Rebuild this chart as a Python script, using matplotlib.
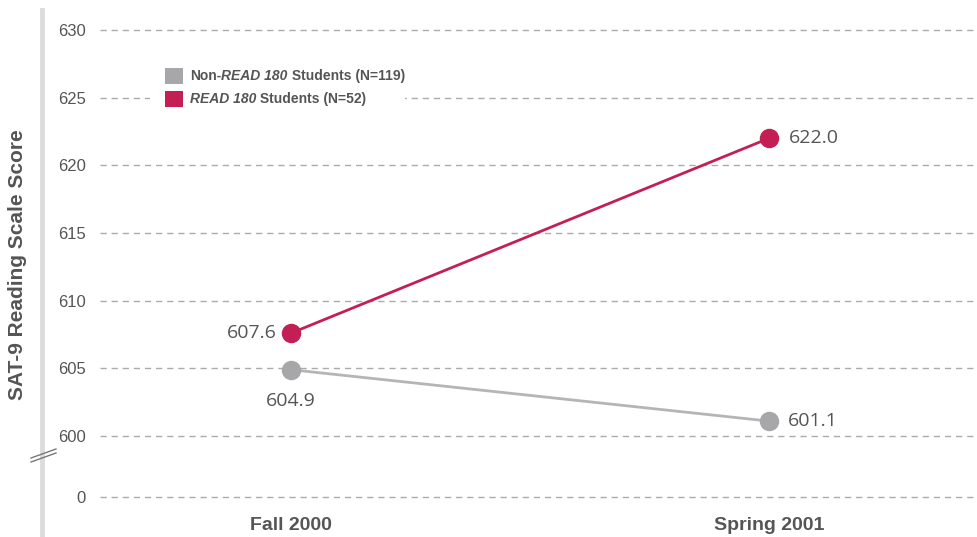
import matplotlib
matplotlib.use("Agg")
import matplotlib.pyplot as plt
from matplotlib.lines import Line2D
from matplotlib.offsetbox import TextArea, HPacker, AnchoredOffsetbox
import matplotlib.font_manager as fm

names = {f.name for f in fm.fontManager.ttflist}
COND = "Liberation Sans Narrow" if "Liberation Sans Narrow" in names else "Liberation Sans"
NUMF = "Open Sans"

categories = ["Fall 2000", "Spring 2001"]
non_read = [604.9, 601.1]
read180 = [607.6, 622.0]
non_labels = ["604.9", "601.1"]
read_labels = ["607.6", "622.0"]
ytick_vals = [600, 605, 610, 615, 620, 625, 630]

GRAY = "#a7a7aa"
GRAY_LINE = "#b5b5b8"
RED = "#c41f55"
TXT = "#555555"

W, H = 978, 537
fig = plt.figure(figsize=(W / 100, H / 100), dpi=100)
ax = fig.add_axes([100 / W, 0, 878 / W, 527 / H])
pxu = (436 - 30) / 30.0
ytop = 630 + 20 / pxu
ybot = 630 - 507 / pxu
zero_pos = 600 - 61 / pxu
ax.set_ylim(ybot, ytop)
x0, x1 = 291, 769
ppx = x1 - x0
ax.set_xlim((100 - x0) / ppx, (978 - x0) / ppx)

for s in ax.spines.values():
    s.set_visible(False)
ax.tick_params(length=0)
ax.set_xticks([])

for v in [zero_pos] + ytick_vals:
    ax.axhline(v, color="#ababab", lw=1, ls=(0, (4.5, 3.5)), zorder=1)

ax.set_yticks([zero_pos] + ytick_vals)
ax.set_yticklabels(["0"] + [str(v) for v in ytick_vals], family=[COND, "DejaVu Sans"],
                   fontsize=12, color=TXT)
ax.tick_params(axis="y", pad=10)

xs = list(range(len(categories)))
ax.plot(xs, non_read, color=GRAY_LINE, lw=2, zorder=3)
ax.plot(xs, non_read, "o", color=GRAY, ms=13, zorder=4)
ax.plot(xs, read180, color=RED, lw=2, zorder=3)
ax.plot(xs, read180, "o", color=RED, ms=13, zorder=4)

nf = dict(family=[NUMF, "DejaVu Sans"], fontsize=14, color=TXT)
ax.annotate(read_labels[0], (xs[0], read180[0]), xytext=(-14, 0), textcoords="offset pixels",
            ha="right", va="center", **nf)
ax.annotate(non_labels[0], (xs[0], non_read[0]), xytext=(0, -31), textcoords="offset pixels",
            ha="center", va="center", **nf)
ax.annotate(read_labels[1], (xs[1], read180[1]), xytext=(20, 0), textcoords="offset pixels",
            ha="left", va="center", **nf)
ax.annotate(non_labels[1], (xs[1], non_read[1]), xytext=(19, 0), textcoords="offset pixels",
            ha="left", va="center", **nf)

for i, c in enumerate(categories):
    xpix = x0 + i * ppx
    fig.text(xpix / W, 1 - 525 / H, c, ha="center", va="center",
             family=[COND, "DejaVu Sans"], fontsize=14, fontweight="bold", color=TXT)

fig.text(18 / W, 1 - 265 / H, "SAT-9 Reading Scale Score", rotation=90, ha="center", va="center",
         family=[COND, "DejaVu Sans"], fontsize=15, fontweight="bold", color=TXT)

fig.add_artist(Line2D([42 / W, 42 / W], [1 - 10 / H, 0], color="#dcdcdc", lw=3.5))
for dy in (0, 4):
    fig.add_artist(Line2D([31 / W, 56 / W], [1 - (458 + dy) / H, 1 - (449 + dy) / H],
                          color="#777777", lw=1))

lf = dict(family=[COND, "DejaVu Sans"], fontsize=10, color=TXT, fontweight="bold")
fig.patches.append(plt.Rectangle((150 / W, 1 - 112 / H), 255 / W, 50 / H, transform=fig.transFigure,
                                 facecolor="white", edgecolor="none", zorder=2))
fig.patches.append(plt.Rectangle((165 / W, 1 - 84 / H), 18 / W, 16 / H, transform=fig.transFigure,
                                 facecolor=GRAY, edgecolor="none", zorder=3))
fig.patches.append(plt.Rectangle((165 / W, 1 - 107 / H), 18 / W, 16 / H, transform=fig.transFigure,
                                 facecolor=RED, edgecolor="none", zorder=3))

def mixed(parts, y):
    boxes = [TextArea(t, textprops=dict(lf, fontstyle=st)) for t, st in parts]
    pack = HPacker(children=boxes, pad=0, sep=0, align="baseline")
    ab = AnchoredOffsetbox(loc="center left", child=pack, pad=0, borderpad=0, frameon=False,
                           bbox_to_anchor=(190 / W, 1 - y / H), bbox_transform=fig.transFigure)
    ab.set_zorder(5)
    fig.add_artist(ab)

mixed([("Non-", "normal"), ("READ 180", "italic"), (" Students (N=119)", "normal")], 76)
mixed([("READ 180", "italic"), (" Students (N=52)", "normal")], 99)

fig.savefig("out.png", dpi=100)
